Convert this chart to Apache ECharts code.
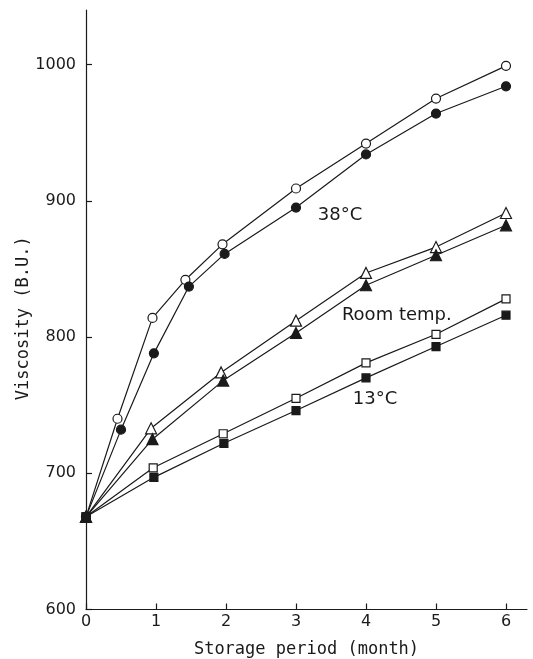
<!DOCTYPE html>
<html>
<head>
<meta charset="utf-8">
<script src="https://cdn.jsdelivr.net/npm/echarts@6/dist/echarts.min.js"></script>
<style>
  html, body { margin: 0; padding: 0; background: #fff; }
  #chart { width: 533px; height: 659px; }
</style>
</head>
<body>
<div id="chart"></div>
<script>
// ---- Data ----
const xTicks = [0, 1, 2, 3, 4, 5, 6];
const yTicks = [600, 700, 800, 900, 1000];

const months38Open   = [0, 0.45, 0.95, 1.42, 1.95, 3, 4, 5, 6];
const visc38Open     = [668, 740, 814, 842, 868, 909, 942, 975, 999];
const months38Filled = [0, 0.5, 0.97, 1.47, 1.98, 3, 4, 5, 6];
const visc38Filled   = [668, 732, 788, 837, 861, 895, 934, 964, 984];

const monthsRTOpen   = [0, 0.93, 1.93, 3, 4, 5, 6];
const viscRTOpen     = [668, 733, 774, 812, 847, 866, 891];
const monthsRTFilled = [0, 0.95, 1.96, 3, 4, 5, 6];
const viscRTFilled   = [668, 725, 768, 803, 838, 860, 882];

const months13Open   = [0, 0.96, 1.96, 3, 4, 5, 6];
const visc13Open     = [668, 704, 729, 755, 781, 802, 828];
const months13Filled = [0, 0.97, 1.97, 3, 4, 5, 6];
const visc13Filled   = [668, 697, 722, 746, 770, 793, 816];

const annotationTexts  = ['38°C', 'Room temp.', '13°C'];
const annotationMonths = [3.63, 4.44, 4.13];
const annotationVisc   = [889.5, 816, 754];

// ---- Build options ----
const ink = '#1a1a1a';
function pairs(xs, ys) { return xs.map((x, i) => [x, ys[i]]); }

function lineSeries(name, xs, ys, symbol, size, filled) {
  return {
    name: name,
    type: 'line',
    data: pairs(xs, ys),
    symbol: symbol,
    symbolSize: size,
    showAllSymbol: true,
    lineStyle: { color: ink, width: 1.2 },
    itemStyle: {
      color: filled ? ink : '#fff',
      borderColor: ink,
      borderWidth: 1.2,
      opacity: 1
    },
    emphasis: { disabled: true },
    z: filled ? 3 : 2
  };
}

const option = {
  animation: false,
  backgroundColor: '#fff',
  grid: { left: 86, right: 6, top: 10, bottom: 49.5, outerBoundsMode: 'none', containLabel: false },
  xAxis: {
    type: 'value',
    min: 0,
    max: 6.3,
    interval: 1,
    name: 'Storage period (month)',
    nameLocation: 'middle',
    nameGap: 32,
    nameTextStyle: { fontFamily: 'DejaVu Sans Mono', fontSize: 17, color: ink },
    axisLine: { show: true, onZero: false, lineStyle: { color: ink, width: 1.2 } },
    axisTick: { show: true, inside: true, length: 6, customValues: xTicks, lineStyle: { color: ink, width: 1.2 } },
    axisLabel: { customValues: xTicks, margin: 4, fontFamily: 'DejaVu Sans', fontSize: 16, color: ink },
    splitLine: { show: false }
  },
  yAxis: {
    type: 'value',
    min: 600,
    max: 1040,
    interval: 100,
    name: 'Viscosity (B.U.)',
    nameLocation: 'middle',
    nameGap: 54,
    nameMoveOverlap: false,
    nameTextStyle: { fontFamily: 'DejaVu Sans Mono', fontSize: 17, color: ink, padding: [0, 17, 0, 0] },
    axisLine: { show: true, onZero: false, lineStyle: { color: ink, width: 1.2 } },
    axisTick: { show: true, inside: true, length: 6, customValues: yTicks, lineStyle: { color: ink, width: 1.2 } },
    axisLabel: {
      customValues: yTicks, margin: 10, fontFamily: 'DejaVu Sans', fontSize: 16, color: ink,
      formatter: function (v) { return String(v); }
    },
    splitLine: { show: false }
  },
  series: [
    lineSeries('38°C open', months38Open, visc38Open, 'circle', 9, false),
    lineSeries('38°C filled', months38Filled, visc38Filled, 'circle', 9, true),
    lineSeries('Room temp. open', monthsRTOpen, viscRTOpen, 'triangle', 11, false),
    lineSeries('Room temp. filled', monthsRTFilled, viscRTFilled, 'triangle', 11, true),
    lineSeries('13°C open', months13Open, visc13Open, 'rect', 8, false),
    lineSeries('13°C filled', months13Filled, visc13Filled, 'rect', 8, true),
    {
      name: 'annotations',
      type: 'scatter',
      symbolSize: 0,
      itemStyle: { opacity: 1 },
      data: annotationTexts.map((t, i) => ({ name: t, value: [annotationMonths[i], annotationVisc[i]] })),
      label: {
        show: true,
        position: 'inside',
        formatter: '{b}',
        fontFamily: 'DejaVu Sans',
        fontSize: 18,
        color: ink,
        opacity: 1,
        backgroundColor: '#fff'
      },
      emphasis: { disabled: true },
      z: 5
    }
  ]
};

const chart = echarts.init(document.getElementById('chart'), null, { renderer: 'canvas' });
chart.setOption(option);
</script>
</body>
</html>
